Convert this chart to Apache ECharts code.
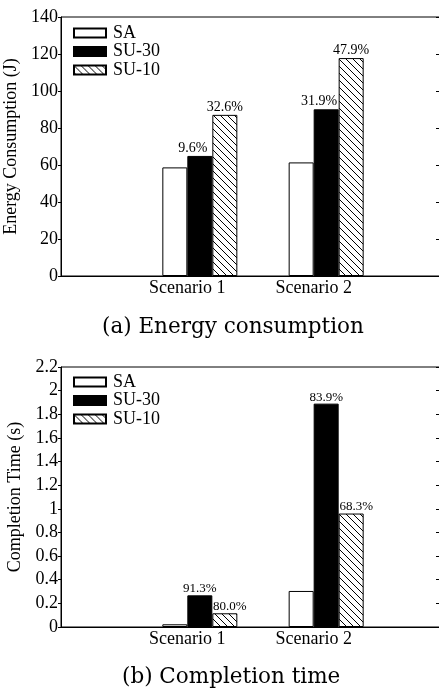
<!DOCTYPE html>
<html>
<head>
<meta charset="utf-8">
<script src="https://cdn.jsdelivr.net/npm/echarts@6/dist/echarts.min.js"></script>
<style>
  html, body { margin: 0; padding: 0; background: #fff; }
  #chartmain { width: 439px; height: 688px; }
</style>
</head>
<body>
<div id="chartmain"></div>
<script>
// 数据
var scenarios = ['Scenario 1', 'Scenario 2'];
var seriesNames = ['SA', 'SU-30', 'SU-10'];

var energySA = [58.7, 61.4];
var energySU30 = [64.9, 90.1];
var energySU10 = [87.1, 117.8];
var energyPct30 = ['9.6%', '31.9%'];
var energyPct10 = ['32.6%', '47.9%'];

var timeSA = [0.023, 0.305];
var timeSU30 = [0.268, 1.89];
var timeSU10 = [0.116, 0.96];
var timePct30 = ['91.3%', '83.9%'];
var timePct10 = ['80.0%', '68.3%'];

var energyTicks = [0, 140, 20];
var timeTicks = [0, 2.2, 0.2];

var FONT = '"Liberation Serif", "Times New Roman", serif';

// 斜线填充
var hatch = document.createElement('canvas');
hatch.width = 7;
hatch.height = 7;
var hc = hatch.getContext('2d');
hc.fillStyle = '#fff';
hc.fillRect(0, 0, 7, 7);
hc.strokeStyle = '#000';
hc.lineWidth = 1;
hc.beginPath();
hc.moveTo(-1, -1); hc.lineTo(8, 8);
hc.moveTo(-1, 6); hc.lineTo(1, 8);
hc.moveTo(6, -1); hc.lineTo(8, 1);
hc.stroke();
var hatchFill = { image: hatch, repeat: 'repeat' };

var fills = ['#fff', '#000', hatchFill];

function pad(arr) { return [null].concat(arr).concat([null]); }
var axisCats = pad(scenarios).map(function (c) { return c || ''; });

var dom = document.getElementById('chartmain');
var chart = echarts.init(dom);

// 两个坐标系，右边框在画布外
var grids = [
    { left: 61, top: 17, width: 379, height: 259 },
    { left: 61, top: 367, width: 379, height: 260 }
];

function buildXAxis(i) {
    return {
        type: 'category', gridIndex: i, data: axisCats, boundaryGap: false,
        axisLine: { lineStyle: { color: '#000', width: 1 } },
        axisTick: { show: false },
        axisLabel: { color: '#000', fontFamily: FONT, fontSize: 18, margin: 3, interval: 0 },
        splitLine: { show: false }
    };
}
function buildYAxes(i, ticks, name) {
    var base = {
        type: 'value', gridIndex: i, min: ticks[0], max: ticks[1], interval: ticks[2],
        splitLine: { show: false }
    };
    return [
        Object.assign({}, base, {
            position: 'left', name: name, nameLocation: 'middle', nameGap: 37,
            nameTextStyle: { color: '#000', fontFamily: FONT, fontSize: 18 },
            axisLine: { show: true, lineStyle: { color: '#000', width: 1 } },
            axisTick: { show: true, inside: false, length: 3, lineStyle: { color: '#000' } },
            axisLabel: { color: '#000', fontFamily: FONT, fontSize: 18, margin: 3 }
        }),
        Object.assign({}, base, {
            position: 'right',
            axisLine: { show: true, lineStyle: { color: '#000', width: 1 } },
            axisTick: { show: true, inside: true, length: 4, lineStyle: { color: '#000' } },
            axisLabel: { show: false }
        })
    ];
}

function buildSeries(i, sets, pcts, pctStyle) {
    var out = [{
        name: '_', type: 'bar', xAxisIndex: i, yAxisIndex: i * 2,
        data: pad([null, null]), barWidth: 25, barGap: '0%'
    }];
    sets.forEach(function (vals, k) {
        var s = {
            name: seriesNames[k], type: 'bar', xAxisIndex: i, yAxisIndex: i * 2,
            data: pad(vals), barWidth: 25, barGap: '0%',
            itemStyle: { color: fills[k], borderColor: '#000', borderWidth: 1 },
            emphasis: { disabled: true },
            label: { show: false }
        };
        if (k > 0) {
            var p = pcts[k - 1];
            s.label = {
                show: true, position: 'top', distance: pctStyle.distance,
                offset: pctStyle.offsets[k - 1],
                color: '#000', fontFamily: FONT, fontSize: pctStyle.size,
                formatter: function (params) { return p[params.dataIndex - 1] || ''; }
            };
        }
        out.push(s);
    });
    return out;
}

function buildLegend(i, top) {
    return {
        orient: 'vertical', left: 73, top: top, padding: 0,
        itemWidth: 32, itemHeight: 9, itemGap: 0.5,
        icon: 'rect', data: seriesNames, selectedMode: false,
        textStyle: { color: '#000', fontFamily: FONT, fontSize: 18, lineHeight: 18, padding: [0, 0, 0, 2] }
    };
}

var captionStyle = { color: '#000', fontFamily: '"DejaVu Serif", serif', fontWeight: 'normal', fontSize: 21.5 };

option = {
    animation: false,
    backgroundColor: '#fff',
    title: [
        { text: '(a) Energy consumption', left: 102, top: 316, padding: 0, textStyle: captionStyle },
        { text: '(b) Completion time', left: 122, top: 666, padding: 0, textStyle: captionStyle }
    ],
    grid: grids.map(function (g) {
        return Object.assign({ show: true, borderColor: '#000', borderWidth: 1, outerBoundsMode: 'none', containLabel: false }, g);
    }),
    legend: [buildLegend(0, 24), buildLegend(1, 373)],
    xAxis: [buildXAxis(0), buildXAxis(1)],
    yAxis: buildYAxes(0, energyTicks, 'Energy Consumption (J)').concat(buildYAxes(1, timeTicks, 'Completion Time (s)')),
    series: buildSeries(0, [energySA, energySU30, energySU10], [energyPct30, energyPct10],
                        { size: 14, distance: 1, offsets: [[-7, 0], [0, 0]] })
        .concat(buildSeries(1, [timeSA, timeSU30, timeSU10], [timePct30, timePct10],
                        { size: 13, distance: 0, offsets: [[0, 0], [5, 0]] }))
};
chart.setOption(option);
</script>
</body>
</html>
